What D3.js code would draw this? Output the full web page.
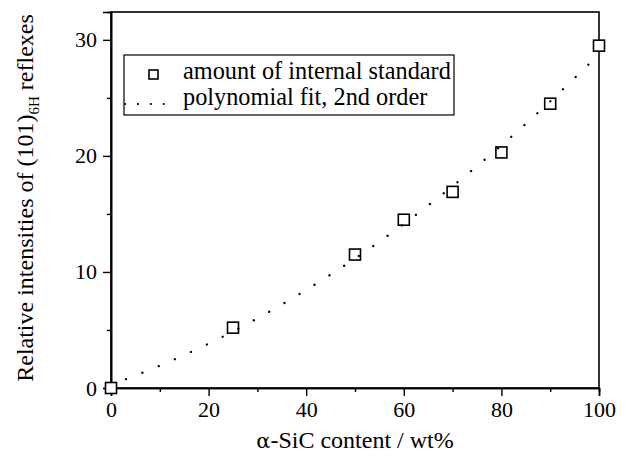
<!DOCTYPE html>
<html>
<head>
<meta charset="utf-8">
<script src="https://cdn.jsdelivr.net/npm/d3@7"></script>
<style>
  @font-face { font-family: "ChartSerif"; src: local("Liberation Serif"), local("LiberationSerif"), local("LiberationSerif-Regular"); }
  body { margin: 0; background: #fff; }
</style>
</head>
<body>
<svg id="chart" width="626" height="457"></svg>
<script>
// measured points (internal standard)
const contentWt = [0, 25, 50, 60, 70, 80, 90, 100];
const relIntensity = [0, 5.2, 11.5, 14.5, 16.9, 20.3, 24.5, 29.5];

// 2nd order polynomial fit
const fitX = [0, 10, 20, 30, 40, 50, 60, 70, 80, 90, 100];
const fitY = [0.28, 1.92, 3.82, 6.0, 8.45, 11.16, 14.14, 17.39, 20.91, 24.7, 28.76];

const xMajor = [0, 20, 40, 60, 80, 100];
const xMinor = [10, 30, 50, 70, 90];
const yMajor = [0, 10, 20, 30];
const yMinor = [5, 15, 25];

const legendLabels = ["amount of internal standard", "polynomial fit, 2nd order"];

const FONT = "Liberation Serif";

const svg = d3.select("#chart");
const margin = { left: 111, right: 27, top: 12, bottom: 69 };
const width = 626 - margin.left - margin.right;
const height = 457 - margin.top - margin.bottom;

const x = d3.scaleLinear().domain([0, 100]).range([0, width]);
const y = d3.scaleLinear().domain([0, 32.4]).range([height, 0]);

const g = svg.append("g").attr("transform", `translate(${margin.left},${margin.top})`);

// frame
g.append("rect")
  .attr("width", width).attr("height", height)
  .attr("fill", "none").attr("stroke", "#000").attr("stroke-width", 1.6);

// bottom axis
g.append("g").attr("transform", `translate(0,${height})`)
  .call(d3.axisBottom(x).tickValues(xMajor).tickSize(8).tickPadding(5).tickFormat(d3.format("d")));
g.append("g").attr("transform", `translate(0,${height})`)
  .call(d3.axisBottom(x).tickValues(xMinor).tickSize(4).tickFormat(""));

// left axis
g.append("g")
  .call(d3.axisLeft(y).tickValues(yMajor).tickSize(8).tickPadding(6).tickFormat(d3.format("d")));
g.append("g")
  .call(d3.axisLeft(y).tickValues(yMinor).tickSize(4).tickFormat(""));

// drop d3's default sans-serif on the axis groups
g.selectAll("g").attr("font-family", null);
g.selectAll(".domain").attr("stroke-width", 1.6);
g.selectAll(".tick line").attr("stroke-width", 1.4);
g.selectAll(".tick text")
  .attr("font-family", FONT).attr("font-size", 22).attr("fill", "#000");

// fit curve (dotted)
const line = d3.line()
  .x((d, i) => x(fitX[i]))
  .y(d => y(d))
  .curve(d3.curveNatural);

// data squares
const sq = 11;
g.selectAll(".pt")
  .data(contentWt)
  .enter().append("rect")
  .attr("class", "pt")
  .attr("x", d => x(d) - sq / 2)
  .attr("y", (d, i) => y(relIntensity[i]) - sq / 2)
  .attr("width", sq).attr("height", sq)
  .attr("fill", "#fff").attr("stroke", "#000").attr("stroke-width", 1.6);

g.append("path")
  .datum(fitY)
  .attr("d", line)
  .attr("fill", "none")
  .attr("stroke", "#000")
  .attr("stroke-width", 2.3)
  .attr("stroke-linecap", "round")
  .attr("stroke-dasharray", "0.1 17.5")
  .attr("stroke-dashoffset", -16);

// legend
const lg = svg.append("g");
lg.append("rect")
  .attr("x", 124).attr("y", 55).attr("width", 330).attr("height", 60)
  .attr("fill", "#fff").attr("stroke", "#000").attr("stroke-width", 1.2);
lg.append("rect")
  .attr("x", 149).attr("y", 70).attr("width", 9).attr("height", 9)
  .attr("fill", "#fff").attr("stroke", "#000").attr("stroke-width", 1.6);
lg.append("line")
  .attr("x1", 125).attr("x2", 176).attr("y1", 104).attr("y2", 104)
  .attr("stroke", "#000").attr("stroke-width", 2.2)
  .attr("stroke-linecap", "round").attr("stroke-dasharray", "0.1 12.8");
lg.selectAll(".lt")
  .data(legendLabels)
  .enter().append("text")
  .attr("x", 183)
  .attr("y", (d, i) => 78.5 + i * 26.5)
  .attr("font-family", FONT)
  .attr("font-size", 24.3)
  .text(d => d);

// axis titles
const xt = svg.append("text")
  .attr("x", margin.left + width / 2).attr("y", 448)
  .attr("text-anchor", "middle")
  .attr("font-family", FONT)
  .attr("font-size", 24);
xt.append("tspan").attr("font-family", "DejaVu Serif").attr("font-size", 21).text("α");
xt.append("tspan").text("-SiC content / wt%");

const yt = svg.append("text")
  .attr("transform", `translate(33,${margin.top + height / 2 - 2}) rotate(-90)`)
  .attr("text-anchor", "middle")
  .attr("font-family", FONT)
  .attr("font-size", 24);
yt.append("tspan").text("Relative intensities of (101)");
yt.append("tspan").attr("dy", 6).attr("font-size", 15).text("6H");
yt.append("tspan").attr("dy", -6).text(" reflexes");
</script>
</body>
</html>
